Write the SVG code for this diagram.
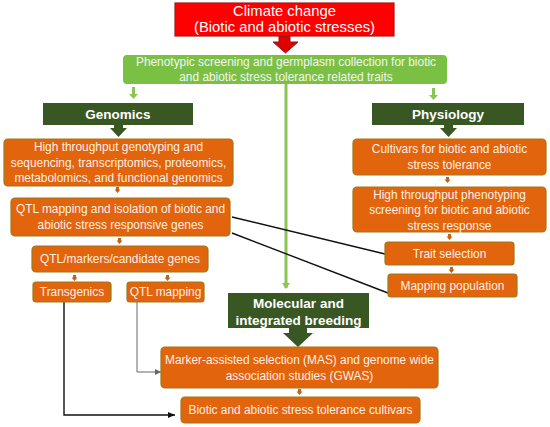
<svg xmlns="http://www.w3.org/2000/svg" width="550" height="427" viewBox="0 0 550 427">
<defs>
<style>
.ob{fill:#E2640C;stroke:#9C7A1A;stroke-width:1.2}
.ot{font-family:"Liberation Sans",Arial,sans-serif;font-size:11.9px;fill:#FFF0E8;text-anchor:middle}
.gb{fill:#385723}
.gt{font-family:"Liberation Sans",Arial,sans-serif;font-size:13.5px;font-weight:bold;fill:#FFFFFF;text-anchor:middle}
.sa{fill:#C0641A}
.conn{fill:none;stroke:#111;stroke-width:1.4}
</style>
<marker id="ah" markerWidth="8" markerHeight="8" refX="7" refY="4" orient="auto" markerUnits="userSpaceOnUse">
<path d="M0,1 L7,4 L0,7 Z" fill="#111"/>
</marker>
<marker id="ahg" markerWidth="8" markerHeight="8" refX="6" refY="4" orient="auto" markerUnits="userSpaceOnUse">
<path d="M0,1 L6,4 L0,7 Z" fill="#666"/>
</marker>
<marker id="ahl" markerWidth="10" markerHeight="10" refX="5" refY="5" orient="auto" markerUnits="userSpaceOnUse">
<path d="M0,1 L6,5 L0,9 Z" fill="#8BC653"/>
</marker>
</defs>
<rect width="550" height="427" fill="#FFFFFF"/>

<g id="connectors">
<line x1="286" y1="84" x2="286" y2="288" stroke="#8BC653" stroke-width="3" marker-end="url(#ahl)"/>
<line x1="232" y1="217" x2="385" y2="254" class="conn"/>
<line x1="232" y1="233" x2="388" y2="293" class="conn"/>
<polyline points="64,302 64,415 175,415" class="conn" marker-end="url(#ah)"/>
<polyline points="137,302 137,372 161,372" fill="none" stroke="#666" stroke-width="1" marker-end="url(#ahg)"/>
<polygon points="279,36 290,36 290,42 298,42 285.5,53 273,42 279,42" fill="#E00000" stroke="#8B1A1A" stroke-width="1"/>
<polygon points="132,87 135,87 135,94 138,94 133.5,99 129,94 132,94" fill="#8BC653"/>
<polygon points="432,88 435,88 435,95 438,95 433.5,100 429,95 432,95" fill="#8BC653"/>
<polygon points="114,125 123,125 123,128 127,128 118.5,137 110,128 114,128" class="gb"/>
<polygon points="444,125 453,125 453,128 457,128 448.5,137 440,128 444,128" class="gb"/>
<polygon points="289,328 307,328 307,333 313,333 298,347 283,333 289,333" class="gb"/>
<polygon points="116,187 119,187 119,189.5 120.5,189.5 117.5,193 114.5,189.5 116,189.5" class="sa"/>
<polygon points="118,238 121,238 121,240.5 122.5,240.5 119.5,244 116.5,240.5 118,240.5" class="sa"/>
<polygon points="73,275 76,275 76,277.5 77.5,277.5 74.5,281 71.5,277.5 73,277.5" class="sa"/>
<polygon points="166,275 169,275 169,277.5 170.5,277.5 167.5,281 164.5,277.5 166,277.5" class="sa"/>
<polygon points="446,177 449,177 449,179.5 450.5,179.5 447.5,183 444.5,179.5 446,179.5" class="sa"/>
<polygon points="448,234 451,234 451,236.5 452.5,236.5 449.5,240 446.5,236.5 448,236.5" class="sa"/>
<polygon points="450,267 453,267 453,269.5 454.5,269.5 451.5,273 448.5,269.5 450,269.5" class="sa"/>
<polygon points="298,389 301,389 301,391.5 302.5,391.5 299.5,395 296.5,391.5 298,391.5" class="sa"/>
</g>

<g id="climate">
<rect x="175" y="3" width="219" height="33" fill="#FF0000" stroke="#9B1C1C" stroke-width="1.2"/>
<text x="284.5" y="16" font-family="Liberation Sans,Arial,sans-serif" font-size="14.8" fill="#FFFFFF" text-anchor="middle">Climate change</text>
<text x="284.5" y="32" font-family="Liberation Sans,Arial,sans-serif" font-size="14.8" fill="#FFFFFF" text-anchor="middle">(Biotic and abiotic stresses)</text>
</g>

<g id="phenotypic">
<rect x="123" y="55" width="324" height="29" rx="4" fill="#7AC143"/>
<text x="286" y="66" font-family="Liberation Sans,Arial,sans-serif" font-size="11.9" fill="#F4F4F4" text-anchor="middle">Phenotypic screening and germplasm collection for biotic</text>
<text x="286" y="81" font-family="Liberation Sans,Arial,sans-serif" font-size="11.9" fill="#F4F4F4" text-anchor="middle">and abiotic stress tolerance related traits</text>
</g>

<g id="genomics">
<rect x="43" y="103" width="150" height="22" class="gb"/>
<text x="118" y="119" class="gt">Genomics</text>
</g>

<g id="physiology">
<rect x="372" y="103" width="152" height="22" class="gb"/>
<text x="448" y="119" class="gt">Physiology</text>
</g>

<g id="genotyping">
<rect x="4" y="139" width="229" height="47" rx="4" class="ob"/>
<text x="118.5" y="151" class="ot">High throughput genotyping and</text>
<text x="118.5" y="166.5" class="ot">sequencing, transcriptomics, proteomics,</text>
<text x="118.5" y="182" class="ot">metabolomics, and functional genomics</text>
</g>

<g id="qtl-isolation">
<rect x="11" y="198" width="219" height="38" rx="4" class="ob"/>
<text x="120.5" y="213" class="ot">QTL mapping and isolation of biotic and</text>
<text x="120.5" y="228.5" class="ot">abiotic stress responsive genes</text>
</g>

<g id="qtl-markers">
<rect x="32" y="246" width="176" height="26" rx="4" class="ob"/>
<text x="120" y="263" class="ot">QTL/markers/candidate genes</text>
</g>

<g id="transgenics">
<rect x="33" y="282" width="78" height="20" rx="3" class="ob"/>
<text x="72" y="296" class="ot">Transgenics</text>
</g>

<g id="qtl-mapping">
<rect x="127" y="282" width="77" height="20" rx="3" class="ob"/>
<text x="165.5" y="296" class="ot">QTL mapping</text>
</g>

<g id="cultivars">
<rect x="353" y="139" width="193" height="36" rx="4" class="ob"/>
<text x="449.5" y="153" class="ot">Cultivars for biotic and abiotic</text>
<text x="449.5" y="168.5" class="ot">stress tolerance</text>
</g>

<g id="phenotyping">
<rect x="353" y="187" width="193" height="45" rx="4" class="ob"/>
<text x="449.5" y="198.5" class="ot">High throughput phenotyping</text>
<text x="449.5" y="214" class="ot">screening for biotic and abiotic</text>
<text x="449.5" y="229.5" class="ot">stress response</text>
</g>

<g id="trait-selection">
<rect x="385" y="242" width="129" height="23" rx="3" class="ob"/>
<text x="449.5" y="257.5" class="ot">Trait selection</text>
</g>

<g id="mapping-population">
<rect x="388" y="274" width="129" height="23" rx="3" class="ob"/>
<text x="452.5" y="289.5" class="ot">Mapping population</text>
</g>

<g id="molecular">
<rect x="228" y="293" width="141" height="35" class="gb"/>
<text x="298.5" y="308" class="gt">Molecular and</text>
<text x="298.5" y="325" class="gt">integrated breeding</text>
</g>

<g id="mas">
<rect x="161" y="347" width="277" height="41" rx="4" class="ob"/>
<text x="299.5" y="364" class="ot">Marker-assisted selection (MAS) and genome wide</text>
<text x="299.5" y="380" class="ot">association studies (GWAS)</text>
</g>

<g id="tolerance-cultivars">
<rect x="181" y="397" width="239" height="26" rx="4" class="ob"/>
<text x="300.5" y="414" class="ot">Biotic and abiotic stress tolerance cultivars</text>
</g>
</svg>
